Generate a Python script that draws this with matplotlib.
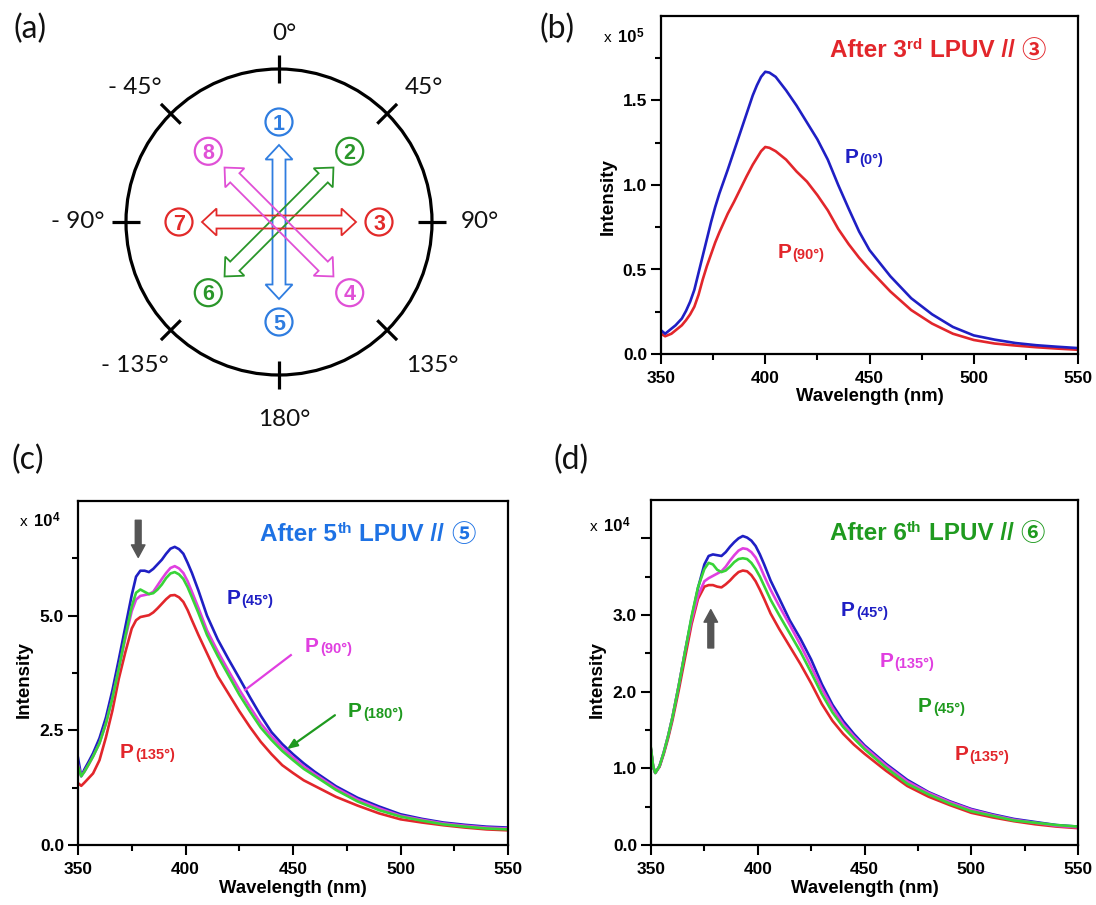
import numpy as np
import matplotlib
matplotlib.use('Agg')
import matplotlib.pyplot as plt
from matplotlib.patches import Circle, Polygon
from matplotlib.transforms import IdentityTransform

# ---------------- data ----------------
wl_b = [350, 352, 355, 357, 360, 362, 364, 366, 368, 370, 372, 374, 376, 378, 380, 382, 385, 388,
        391, 394, 396, 398, 400, 402, 405, 410, 415, 420, 425, 430, 435, 440, 445, 450, 460, 470,
        480, 490, 500, 510, 520, 530, 540, 550]
b_p0 = [0.14, 0.12, 0.15, 0.17, 0.21, 0.255, 0.31, 0.38, 0.48, 0.58, 0.68, 0.78, 0.87, 0.95, 1.02,
        1.09, 1.20, 1.31, 1.42, 1.53, 1.59, 1.64, 1.67, 1.665, 1.64, 1.56, 1.47, 1.37, 1.27, 1.15,
        1.00, 0.86, 0.725, 0.615, 0.46, 0.33, 0.235, 0.16, 0.11, 0.085, 0.065, 0.052, 0.043, 0.035]
b_p90 = [0.12, 0.105, 0.12, 0.14, 0.17, 0.20, 0.235, 0.28, 0.35, 0.44, 0.52, 0.59, 0.66, 0.72, 0.775,
         0.83, 0.90, 0.975, 1.05, 1.12, 1.16, 1.20, 1.225, 1.22, 1.20, 1.15, 1.08, 1.02, 0.94, 0.85,
         0.74, 0.65, 0.57, 0.50, 0.37, 0.26, 0.18, 0.12, 0.083, 0.062, 0.05, 0.04, 0.032, 0.025]

wl_c = [350, 351.5, 353, 355, 357, 360, 363, 366, 369, 372, 375, 377, 379, 381, 383, 385, 387, 389,
        391, 393, 395, 397, 399, 401, 403, 406, 410, 415, 420, 425, 430, 435, 440, 445, 450, 455,
        460, 470, 480, 490, 500, 510, 520, 530, 540, 550]
c_p45 = [1.90, 1.50, 1.65, 1.82, 2.00, 2.33, 2.78, 3.37, 4.05, 4.75, 5.45, 5.85, 5.98, 5.98, 5.95,
         6.02, 6.12, 6.22, 6.35, 6.46, 6.50, 6.45, 6.35, 6.15, 5.93, 5.55, 5.00, 4.48, 4.05, 3.64,
         3.22, 2.82, 2.46, 2.20, 1.98, 1.78, 1.60, 1.28, 1.03, 0.84, 0.67, 0.57, 0.49, 0.44, 0.40, 0.38]
c_p90 = [1.75, 1.50, 1.60, 1.76, 1.93, 2.22, 2.65, 3.20, 3.85, 4.50, 5.10, 5.35, 5.43, 5.45, 5.47,
         5.52, 5.66, 5.80, 5.93, 6.04, 6.08, 6.03, 5.93, 5.75, 5.52, 5.17, 4.68, 4.22, 3.80, 3.39,
         3.01, 2.65, 2.37, 2.12, 1.91, 1.71, 1.55, 1.24, 0.99, 0.80, 0.64, 0.55, 0.47, 0.42, 0.38, 0.36]
c_p180 = [1.72, 1.50, 1.60, 1.76, 1.93, 2.22, 2.65, 3.20, 3.85, 4.55, 5.20, 5.50, 5.57, 5.52, 5.47,
          5.49, 5.57, 5.68, 5.82, 5.92, 5.95, 5.90, 5.80, 5.62, 5.40, 5.06, 4.58, 4.12, 3.70, 3.28,
          2.91, 2.56, 2.29, 2.05, 1.85, 1.66, 1.51, 1.20, 0.95, 0.76, 0.62, 0.53, 0.45, 0.40, 0.36, 0.34]
c_p135 = [1.35, 1.29, 1.36, 1.46, 1.56, 1.85, 2.35, 2.93, 3.63, 4.20, 4.72, 4.90, 4.97, 4.99, 5.01,
          5.07, 5.16, 5.26, 5.36, 5.44, 5.45, 5.40, 5.30, 5.12, 4.90, 4.58, 4.18, 3.68, 3.30, 2.92,
          2.57, 2.25, 1.98, 1.74, 1.57, 1.41, 1.29, 1.05, 0.86, 0.69, 0.56, 0.49, 0.43, 0.38, 0.34, 0.32]

wl_d = [350, 351, 352, 354, 356, 358, 360, 363, 366, 369, 372, 375, 377, 379, 381, 383, 385, 387,
        389, 391, 393, 395, 397, 399, 401, 403, 406, 410, 415, 420, 425, 430, 435, 440, 445, 450,
        460, 470, 480, 490, 500, 510, 520, 530, 540, 550]
d_p45b = [1.24, 1.02, 0.94, 1.03, 1.21, 1.42, 1.66, 2.08, 2.53, 2.96, 3.35, 3.66, 3.77, 3.79, 3.78,
          3.77, 3.82, 3.89, 3.95, 4.00, 4.03, 4.01, 3.97, 3.90, 3.79, 3.66, 3.45, 3.22, 2.93, 2.69,
          2.42, 2.10, 1.83, 1.62, 1.45, 1.30, 1.06, 0.85, 0.69, 0.57, 0.47, 0.40, 0.34, 0.30, 0.26, 0.24]
d_p135m = [1.24, 1.02, 0.94, 1.03, 1.21, 1.42, 1.66, 2.08, 2.53, 2.93, 3.25, 3.44, 3.48, 3.51, 3.54,
           3.57, 3.63, 3.71, 3.78, 3.84, 3.87, 3.86, 3.82, 3.75, 3.64, 3.51, 3.33, 3.12, 2.87, 2.61,
           2.33, 2.04, 1.79, 1.58, 1.42, 1.28, 1.04, 0.83, 0.68, 0.56, 0.46, 0.39, 0.33, 0.29, 0.25, 0.23]
d_p45g = [1.26, 1.03, 0.94, 1.03, 1.21, 1.42, 1.66, 2.08, 2.53, 2.98, 3.36, 3.60, 3.68, 3.66, 3.59,
          3.56, 3.58, 3.63, 3.69, 3.73, 3.74, 3.73, 3.68, 3.60, 3.50, 3.38, 3.20, 3.00, 2.76, 2.52,
          2.25, 1.97, 1.73, 1.54, 1.39, 1.25, 1.01, 0.80, 0.66, 0.54, 0.44, 0.38, 0.32, 0.29, 0.26, 0.24]
d_p135r = [1.24, 1.02, 0.94, 1.02, 1.19, 1.39, 1.62, 2.02, 2.45, 2.88, 3.21, 3.37, 3.39, 3.39, 3.37,
           3.36, 3.40, 3.45, 3.51, 3.56, 3.58, 3.57, 3.52, 3.44, 3.33, 3.21, 3.02, 2.82, 2.59, 2.36,
           2.11, 1.84, 1.62, 1.45, 1.31, 1.19, 0.97, 0.77, 0.63, 0.52, 0.42, 0.36, 0.31, 0.27, 0.24, 0.22]

x_ticks = [350, 400, 450, 500, 550]
x_minor = [375, 425, 475, 525]
b_yticks, b_ylabels, b_yminor = [0, 0.5, 1.0, 1.5], ['0.0', '0.5', '1.0', '1.5'], [0.25, 0.75, 1.25, 1.75]
c_yticks, c_ylabels, c_yminor = [0, 2.5, 5.0], ['0.0', '2.5', '5.0'], [1.25, 3.75, 6.25]
d_yticks, d_ylabels, d_yminor = [0, 1, 2, 3, 4], ['0.0', '1.0', '2.0', '3.0', ''], [0.5, 1.5, 2.5, 3.5]

angle_labels = ['0°', '45°', '90°', '135°', '180°', '- 135°', '- 90°', '- 45°']
circled_nums = ['1', '2', '3', '4', '5', '6', '7', '8']

# ---------------- style ----------------
W, H = 1096, 905
plt.rcParams['font.family'] = ['Liberation Sans', 'Noto Sans CJK SC', 'DejaVu Sans']
plt.rcParams['font.weight'] = 'bold'
plt.rcParams['axes.linewidth'] = 1.6

BLUE = '#1f1fc4'
RED = '#e2262b'
MAG = '#e03fe0'
LIME = '#38d438'
GTXT = '#1f9a1f'
AZURE = '#1e72e4'
GRAY = '#555555'

A_BLUE, A_GREEN, A_RED, A_MAG = '#2f7de0', '#2a962a', '#e22a2a', '#e050d6'

fig = plt.figure(figsize=(W / 100, H / 100), dpi=100)
REND = fig.canvas.get_renderer()


def box(l, t, r, b):
    return [l / W, 1 - b / H, (r - l) / W, (b - t) / H]


def chain(X, Y, pieces):
    """pieces: (text, fontsize, color, dy_px, gap_px, extra) drawn left to right in display px."""
    for txt, fs, col, dy, gap, extra in pieces:
        X += gap
        kw = dict(fontsize=fs, color=col, fontweight='bold')
        kw.update(extra)
        t = fig.text(X, Y + dy, txt, transform=IdentityTransform(), ha='left', va='baseline', **kw)
        X = t.get_window_extent(REND).x1
    return X


def data_chain(ax, x, y, pieces):
    X, Y = ax.transData.transform((x, y))
    chain(X, Y, pieces)


def plabel(ax, x, y, sub, col):
    data_chain(ax, x, y, [('P', 15, col, 0, 0, {}), (sub, 10.5, col, -1, 1, {})])


def title(ax, x, y, num, circ, col):
    data_chain(ax, x, y, [
        ('After ' + num, 17.5, col, 0, 0, {}),
        (('rd' if num == '3' else 'th'), 11, col, 8, 0.5, {}),
        ('LPUV //', 17.5, col, 0, 7, {}),
        (circ, 17.5, col, -1, 7, {'family': ['Noto Sans CJK SC', 'DejaVu Sans']}),
    ])


def scale_label(px_left, px_base, exp):
    chain(px_left, H - px_base, [('x', 11, 'black', 0, 0, {'fontweight': 'normal'}),
                                  ('10', 12, 'black', 0, 6, {}),
                                  (exp, 8.5, 'black', 5, 0.5, {})])


def style_axes(ax, yticks, ylabels, yminor, ymax):
    ax.set_xlim(350, 550)
    ax.set_ylim(0, ymax)
    ax.set_xticks(x_ticks)
    ax.set_xticks(x_minor, minor=True)
    ax.set_yticks(yticks)
    ax.set_yticklabels(ylabels)
    ax.set_yticks(yminor, minor=True)
    ax.tick_params(which='major', direction='out', length=7, width=1.5, labelsize=12.5, pad=3)
    ax.tick_params(which='minor', direction='out', length=4, width=1.5)
    ax.tick_params(axis='x', which='major', pad=5)
    for lab in ax.get_xticklabels() + ax.get_yticklabels():
        lab.set_fontweight('bold')
    ax.set_xlabel('Wavelength (nm)', fontsize=13.3, fontweight='bold')
    ax.set_ylabel('Intensity', fontsize=13.5, fontweight='bold')
    ax.xaxis.set_label_coords(0.5, -0.102)
    ax.yaxis.set_label_coords(-0.105, 0.48)


# ---------------- panel (a) ----------------
axA = fig.add_axes(box(0, 0, 540, 440))
axA.set_xlim(0, 540)
axA.set_ylim(440, 0)
axA.axis('off')
cx, cy, R = 279, 222, 153
axA.add_patch(Circle((cx, cy), R, fill=False, lw=2.3, ec='black'))
label_offsets = [(5, -190), (145, -137), (201, -2), (153, 141), (5, 196), (-144, 141), (-201, -2),
                 (-144, -137)]
for k in range(8):
    a = np.deg2rad(45 * k)
    ux, uy = np.sin(a), -np.cos(a)
    axA.plot([cx + (R - 14) * ux, cx + (R + 14) * ux], [cy + (R - 14) * uy, cy + (R + 14) * uy],
             color='black', lw=2.3, solid_capstyle='butt')
    ox, oy = label_offsets[k]
    axA.text(cx + ox, cy + oy + 8.5, angle_labels[k], fontsize=17.5, fontweight='normal',
             family='Lato', ha='center', va='baseline', color='#111111')

arrow_cols = [A_BLUE, A_GREEN, A_RED, A_MAG]
L, w, hw, hl = 77, 6.5, 13.5, 14.5
loc = [(-L, 0), (-L + hl, hw), (-L + hl, w), (L - hl, w), (L - hl, hw), (L, 0), (L - hl, -hw),
       (L - hl, -w), (-L + hl, -w), (-L + hl, -hw)]
for k in range(4):
    a = np.deg2rad(45 * k)
    ux, uy = np.sin(a), -np.cos(a)
    vx, vy = np.cos(a), np.sin(a)
    pts = [(cx + s * ux + t * vx, cy + s * uy + t * vy) for s, t in loc]
    axA.add_patch(Polygon(pts, closed=True, fill=False, ec=arrow_cols[k], lw=1.3, joinstyle='miter'))

num_cols = [A_BLUE, A_GREEN, A_RED, A_MAG] * 2
for k in range(8):
    a = np.deg2rad(45 * k)
    x0, y0 = cx + 100 * np.sin(a), cy - 100 * np.cos(a)
    axA.add_patch(Circle((x0, y0), 13.5, fill=False, ec=num_cols[k], lw=1.6))
    axA.text(x0, y0 + 7.5, circled_nums[k], fontsize=15.5, fontweight='bold', color=num_cols[k],
             ha='center', va='baseline')

# ---------------- panel (b) ----------------
axB = fig.add_axes(box(661, 16, 1078, 354))
axB.plot(wl_b, b_p90, color=RED, lw=1.9)
axB.plot(wl_b, b_p0, color=BLUE, lw=1.9)
style_axes(axB, b_yticks, b_ylabels, b_yminor, 2.0)
axB.yaxis.set_label_coords(-0.105, 0.465)

# ---------------- panel (c) ----------------
axC = fig.add_axes(box(78, 501, 508, 845))
axC.plot(wl_c, c_p135, color=RED, lw=1.9)
axC.plot(wl_c, c_p45, color=BLUE, lw=1.9)
axC.plot(wl_c, c_p90, color=MAG, lw=1.9)
axC.plot(wl_c, c_p180, color=LIME, lw=1.9)
style_axes(axC, c_yticks, c_ylabels, c_yminor, 7.5)
axC.annotate('', xy=(378, 6.27), xytext=(378, 7.08),
             arrowprops=dict(arrowstyle='simple,head_length=0.6,head_width=0.65,tail_width=0.28',
                             color=GRAY, mutation_scale=15, shrinkA=0, shrinkB=0))
axC.plot([449, 427.7], [4.14, 3.38], color=MAG, lw=1.6)
axC.annotate('', xy=(447.2, 2.09), xytext=(469.5, 2.83),
             arrowprops=dict(arrowstyle='-|>,head_length=0.5,head_width=0.2', color='#1f9a1f',
                             lw=1.6, mutation_scale=12, shrinkA=0, shrinkB=0))

# ---------------- panel (d) ----------------
axD = fig.add_axes(box(651, 500, 1078, 845))
axD.plot(wl_d, d_p135r, color=RED, lw=1.9)
axD.plot(wl_d, d_p45b, color=BLUE, lw=1.9)
axD.plot(wl_d, d_p135m, color=MAG, lw=1.9)
axD.plot(wl_d, d_p45g, color=LIME, lw=1.9)
style_axes(axD, d_yticks, d_ylabels, d_yminor, 4.5)
axD.annotate('', xy=(378, 3.07), xytext=(378, 2.57),
             arrowprops=dict(arrowstyle='simple,head_length=0.6,head_width=0.65,tail_width=0.28',
                             color=GRAY, mutation_scale=15, shrinkA=0, shrinkB=0))

# ---------------- text labels ----------------
title(axB, 431, 1.755, '3', '③', RED)
plabel(axB, 438, 1.13, '(0°)', BLUE)
plabel(axB, 406, 0.57, '(90°)', RED)

title(axC, 434.7, 6.63, '5', '⑤', AZURE)
plabel(axC, 419, 5.25, '(45°)', BLUE)
plabel(axC, 455.6, 4.20, '(90°)', MAG)
plabel(axC, 475.6, 2.79, '(180°)', GTXT)
plabel(axC, 369.5, 1.90, '(135°)', RED)

title(axD, 433.8, 3.98, '6', '⑥', GTXT)
plabel(axD, 439, 2.99, '(45°)', BLUE)
plabel(axD, 457, 2.32, '(135°)', MAG)
plabel(axD, 475, 1.73, '(45°)', GTXT)
plabel(axD, 492, 1.11, '(135°)', RED)

scale_label(604, 42, '5')
scale_label(20, 526, '4')
scale_label(590, 531, '4')

for lab, (x, y) in zip(['(a)', '(b)', '(c)', '(d)'], [(30, 29), (557, 29), (28, 460), (571, 460)]):
    fig.text(x / W, 1 - y / H, lab, fontsize=23, fontweight='normal', family='Lato',
             ha='center', va='center', color='#111111')

fig.savefig('out.png', dpi=100)
